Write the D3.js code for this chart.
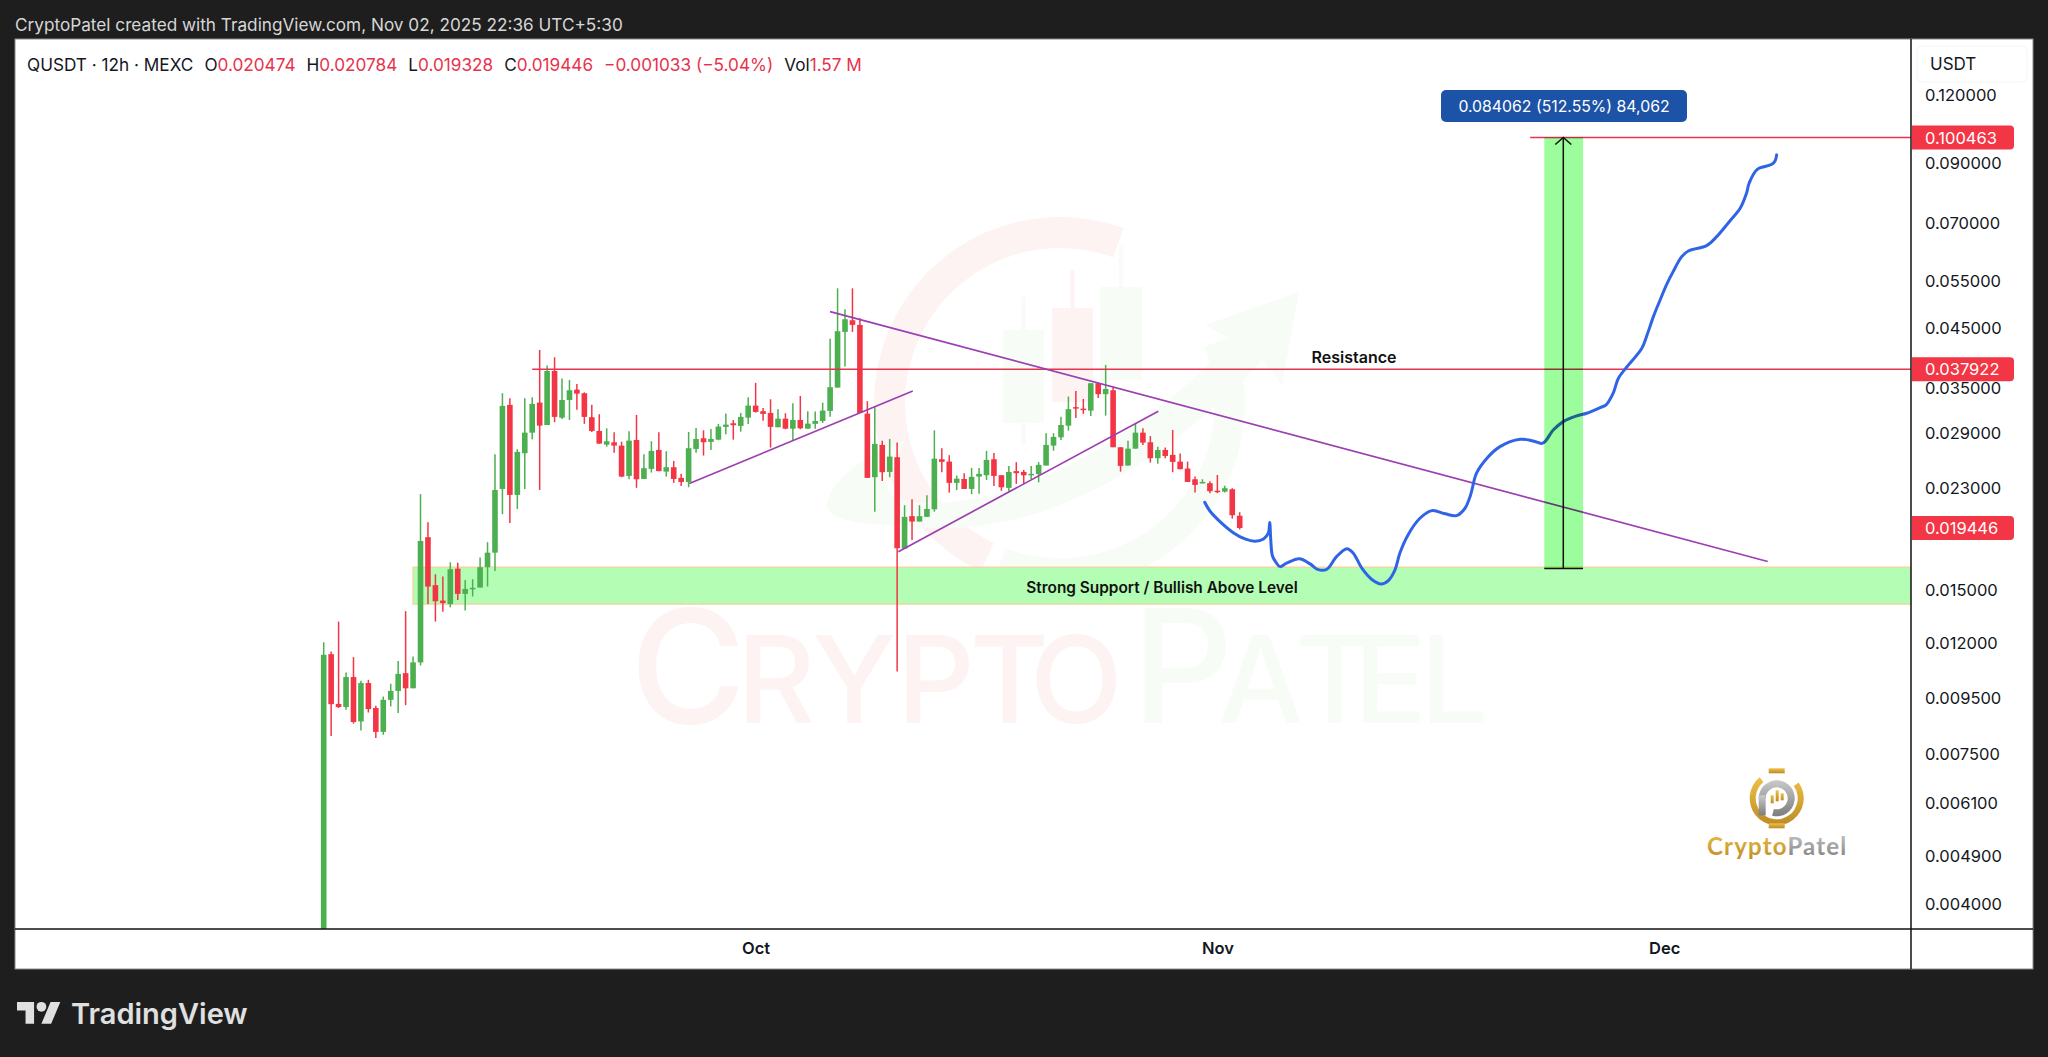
<!DOCTYPE html>
<html lang="en">
<head>
<meta charset="UTF-8">
<title>QUSDT 12h MEXC</title>
<style>
  html, body { margin: 0; background: #1e1e1e; }
  svg { display: block; font-family: Inter, sans-serif; }
  .axis path, .axis line { display: none; }
  .axis text { fill: #131722; font-family: Inter, sans-serif; }
  .price-axis text { font-size: 16.5px; }
  .time-axis text { font-size: 16.5px; font-weight: 600; }
</style>
</head>
<body>
<svg width="2048" height="1057"></svg>
<script src="https://d3js.org/d3.v7.min.js"></script>
<script>
  // 12h candles, first one opens Sep 2 2025
  const opens = [
    0.00350,0.01144,0.00928,0.00916,0.01039,0.00862,0.01013,0.00912,0.00825,0.00944,
    0.00980,0.01056,0.00991,0.01105,0.01871,0.01529,0.01433,0.01412,0.01639,0.01474,
    0.01503,0.01514,0.01649,0.01753,0.02292,0.03264,0.02235,0.02663,0.02904,0.03295,
    0.02999,0.03764,0.03093,0.03332,0.03480,0.03428,0.03099,0.02925,0.02761,0.02789,
    0.02750,0.02421,0.02816,0.02390,0.02494,0.02700,0.02465,0.02511,0.02401,0.02360,
    0.02712,0.02836,0.02793,0.02820,0.02975,0.03021,0.02987,0.03093,0.03254,0.03178,
    0.03155,0.02971,0.03080,0.02953,0.03063,0.02953,0.03013,0.03050,0.03182,0.03510,
    0.04436,0.04659,0.04569,0.03146,0.02408,0.02758,0.02462,0.02619,0.01783,0.02044,
    0.01998,0.02038,0.02104,0.02597,0.02571,0.02351,0.02390,0.02292,0.02414,0.02428,
    0.02597,0.02428,0.02302,0.02470,0.02462,0.02428,0.02439,0.02529,0.02750,0.02848,
    0.02991,0.03233,0.03213,0.03186,0.03575,0.03414,0.03471,0.02731,0.02529,0.02715,
    0.02904,0.02789,0.02608,0.02700,0.02645,0.02571,0.02497,0.02387,0.02348,0.02348,
    0.02275,0.02266,0.02289,0.020474
  ];
  const highs = [
    0.01203,0.01157,0.01312,0.01059,0.01130,0.01023,0.01027,0.00921,0.00957,0.01010,
    0.01112,0.01371,0.01133,0.02242,0.01993,0.01601,0.01585,0.01684,0.01681,0.01563,
    0.01568,0.01717,0.01832,0.02652,0.03428,0.03356,0.02708,0.03356,0.03371,0.04112,
    0.03850,0.03988,0.03645,0.03625,0.03565,0.03440,0.03264,0.03138,0.02958,0.02909,
    0.02796,0.02921,0.03129,0.02652,0.02801,0.02909,0.02686,0.02578,0.02442,0.02913,
    0.02962,0.02933,0.02950,0.03013,0.03146,0.03063,0.03155,0.03371,0.03580,0.03222,
    0.03342,0.03205,0.03151,0.03287,0.03389,0.03178,0.03173,0.03295,0.04312,0.05329,
    0.04880,0.05329,0.04699,0.03314,0.03250,0.02808,0.02828,0.02785,0.02140,0.02195,
    0.02140,0.02232,0.02933,0.02720,0.02641,0.02424,0.02448,0.02504,0.02504,0.02689,
    0.02667,0.02428,0.02525,0.02565,0.02483,0.02525,0.02565,0.02897,0.02897,0.03106,
    0.03380,0.03461,0.03346,0.03575,0.03585,0.03861,0.03525,0.02731,0.02808,0.03013,
    0.02958,0.02862,0.02738,0.02727,0.02937,0.02659,0.02571,0.02414,0.02387,0.02367,
    0.02431,0.02322,0.02299,0.020784
  ];
  const lows = [
    0.00350,0.00811,0.00912,0.00905,0.00854,0.00830,0.00895,0.00804,0.00815,0.00918,
    0.00893,0.00923,0.00991,0.01091,0.01412,0.01312,0.01368,0.01393,0.01437,0.01374,
    0.01458,0.01514,0.01520,0.01623,0.02061,0.01985,0.02106,0.02292,0.02824,0.02282,
    0.02999,0.03034,0.03076,0.03063,0.03199,0.03013,0.02913,0.02773,0.02738,0.02670,
    0.02408,0.02387,0.02303,0.02390,0.02455,0.02470,0.02414,0.02351,0.02321,0.02308,
    0.02670,0.02637,0.02700,0.02813,0.02885,0.02820,0.02916,0.03013,0.03159,0.03054,
    0.02727,0.02971,0.02946,0.02808,0.02946,0.02953,0.02953,0.03025,0.03106,0.03510,
    0.03834,0.04436,0.03155,0.02401,0.02083,0.02370,0.02408,0.01064,0.01783,0.01849,
    0.01998,0.02038,0.02083,0.02459,0.02257,0.02282,0.02292,0.02242,0.02247,0.02380,
    0.02321,0.02273,0.02273,0.02341,0.02341,0.02387,0.02357,0.02529,0.02692,0.02816,
    0.02929,0.03089,0.03142,0.03116,0.03361,0.03120,0.02731,0.02465,0.02529,0.02715,
    0.02758,0.02560,0.02547,0.02608,0.02459,0.02490,0.02360,0.02257,0.02348,0.02251,
    0.02251,0.02257,0.02023,0.019328
  ];
  const closes = [
    0.01141,0.00927,0.00916,0.01039,0.00860,0.01013,0.00908,0.00825,0.00944,0.00980,
    0.01053,0.00991,0.01105,0.01841,0.01520,0.01429,0.01418,0.01635,0.01474,0.01505,
    0.01512,0.01649,0.01753,0.02282,0.03250,0.02235,0.02678,0.02904,0.03277,0.02991,
    0.03764,0.03103,0.03332,0.03471,0.03422,0.03103,0.02925,0.02773,0.02801,0.02750,
    0.02414,0.02808,0.02387,0.02501,0.02689,0.02470,0.02511,0.02390,0.02360,0.02720,
    0.02828,0.02789,0.02828,0.02979,0.03004,0.02996,0.03103,0.03254,0.03169,0.03142,
    0.02975,0.03080,0.02953,0.03063,0.02958,0.03016,0.03050,0.03186,0.03516,0.04449,
    0.04679,0.04569,0.03155,0.02401,0.02770,0.02459,0.02626,0.01786,0.02038,0.01998,
    0.02044,0.02107,0.02603,0.02568,0.02351,0.02393,0.02292,0.02411,0.02442,0.02589,
    0.02421,0.02308,0.02462,0.02449,0.02427,0.02442,0.02536,0.02758,0.02852,0.02999,
    0.03205,0.03213,0.03195,0.03575,0.03414,0.03490,0.02731,0.02525,0.02715,0.02904,
    0.02785,0.02608,0.02700,0.02633,0.02568,0.02490,0.02360,0.02331,0.02360,0.02270,
    0.02266,0.02299,0.02052,0.019446
  ];

  // hand drawn forecast: bar number (can be fractional) and price
  const forecastBars = [
    118.3,119.0,120.35,122.14,123.7,125.06,126.2,126.84,127.03,127.17,127.4,127.9,128.4,129.3,131.0,
    132.45,133.55,134.7,136.0,137.4,138.25,139.4,140.7,142.0,142.96,143.85,144.5,145.6,147.2,148.8,
    150.6,152.1,153.25,154.0,154.8,156.2,157.95,160.65,162.4,163.7,165.1,166.45,168.25,169.6,171.4,
    172.2,173.15,173.85,174.95,177.0,177.7,178.55,179.45,180.35,181.2,182.35,183.25,185.7,187.05,
    188.85,190.2,191.05,191.4,192.5,194.45,194.9,195.1
  ];
  const forecastPrices = [
    0.02167,0.02089,0.01998,0.01907,0.01857,0.01839,0.01857,0.01903,0.01990,0.01849,0.01729,0.01681,0.01653,0.01677,0.01709,
    0.01672,0.01632,0.01635,0.01724,0.01783,0.01749,0.01642,0.01568,0.01537,0.01559,0.01630,0.01749,0.01889,0.02026,0.02092,
    0.02064,0.02049,0.02113,0.02235,0.02449,0.02608,0.02738,0.02824,0.02804,0.02778,0.02937,0.03042,0.03116,0.03151,0.03227,
    0.03264,0.03428,0.03651,0.03824,0.04142,0.04380,0.04731,0.05074,0.05424,0.05716,0.06088,0.06235,0.06377,0.06622,
    0.07082,0.07462,0.07948,0.08290,0.08790,0.08975,0.09115,0.09340
  ];

  // trend lines: [bar, price, bar, price]
  const trendLines = [
    [68, 0.04831, 193.9, 0.01689],
    [49.1, 0.02345, 79.1, 0.03461],
    [77.16, 0.01760, 112.07, 0.03178]
  ];

  const resistancePrice = 0.037922;
  const resistanceStartBar = 28;
  const targetPrice = 0.100463;
  const targetStartBar = 162;
  const lastPrice = 0.019446;
  const supportTop = 0.01649;
  const supportBottom = 0.01412;
  const supportStartBar = 12;
  const rangeLow = 0.016401;
  const rangeBars = [163.9, 169.1];
  const rangeArrowBar = 166.45;

  const priceTicks = [0.12,0.09,0.07,0.055,0.045,0.035,0.029,0.023,0.015,0.012,0.0095,0.0075,0.0061,0.0049,0.004];
  const timeTicks = [new Date(Date.UTC(2025,9,1)), new Date(Date.UTC(2025,10,1)), new Date(Date.UTC(2025,11,1))];
  const timeLabels = ["Oct", "Nov", "Dec"];

  const legendParts = [
    ["QUSDT · 12h · MEXC", "k", 0], ["O", "k", 11], ["0.020474", "r", 0], ["H", "k", 11], ["0.020784", "r", 0],
    ["L", "k", 11], ["0.019328", "r", 0], ["C", "k", 11], ["0.019446", "r", 0],
    ["−0.001033 (−5.04%)", "r", 11], ["Vol", "k", 11], ["1.57 M", "r", 0]
  ];

  const paneLeft = 15, paneRight = 2033, paneTop = 39, paneBottom = 969, plotBottom = 929, axisX = 1911;
  const up = "#4caf50", down = "#f23645", ink = "#131722";
  const barMs = 12 * 3600 * 1000;
  const startTime = Date.UTC(2025, 8, 2);
  const barTime = i => new Date(startTime + i * barMs);

  const svg = d3.select("svg");

  const x = d3.scaleUtc().domain([barTime(0), barTime(180)]).range([323.7, 1664.2]);
  const y = d3.scaleLog().domain([0.12, 0.004]).range([95.3, 904]);
  const xb = i => x(barTime(i));

  const defs = svg.append("defs");
  defs.append("clipPath").attr("id", "plot").append("rect")
    .attr("x", paneLeft).attr("y", paneTop).attr("width", axisX - paneLeft).attr("height", plotBottom - paneTop);

  const gold = defs.append("linearGradient").attr("id", "gold").attr("x1", 0).attr("x2", 0).attr("y1", 0).attr("y2", 1);
  gold.append("stop").attr("offset", 0).attr("stop-color", "#eec146");
  gold.append("stop").attr("offset", 1).attr("stop-color", "#bd8a26");
  const silver = defs.append("linearGradient").attr("id", "silver").attr("x1", 0).attr("x2", 0).attr("y1", 0).attr("y2", 1);
  silver.append("stop").attr("offset", 0).attr("stop-color", "#c9c9c9");
  silver.append("stop").attr("offset", 1).attr("stop-color", "#7d7d7d");

  // pane
  svg.append("rect").attr("x", paneLeft).attr("y", paneTop).attr("width", paneRight - paneLeft).attr("height", paneBottom - paneTop)
    .attr("fill", "#fff").attr("stroke", "#8a8a8a").attr("stroke-width", 1);

  // watermark
  const wm = svg.append("g").attr("clip-path", "url(#plot)");
  const wmRed = "#fdf3f2", wmGreen = "#f8fcf6";
  const wmWords = [
    { fill: wmRed, letters: [["C", 630, 158], ["R", 737, 121], ["Y", 812, 121], ["P", 897, 121], ["T", 970, 121], ["O", 1030, 121]] },
    { fill: wmGreen, letters: [["P", 1132, 158], ["A", 1218, 121], ["T", 1295, 121], ["E", 1354, 121], ["L", 1420, 121]] }
  ];
  wmWords.forEach(w => {
    wm.append("text").attr("y", 723).attr("font-weight", 500).attr("fill", w.fill)
      .selectAll("tspan").data(w.letters).join("tspan")
      .attr("x", d => d[1]).attr("font-size", d => d[2]).text(d => d[0]);
  });

  const ringArc = d3.arc();
  wm.append("path").attr("transform", "translate(1060,403)").attr("fill", wmRed)
    .attr("d", ringArc({ innerRadius: 155, outerRadius: 186, startAngle: -2.7, endAngle: 0.35 }));
  wm.append("path").attr("transform", "translate(1060,403)").attr("fill", wmGreen)
    .attr("d", ringArc({ innerRadius: 155, outerRadius: 185, startAngle: 1.2, endAngle: 3.5 }));
  wm.append("path").attr("fill", wmGreen)
    .attr("d", "M827 505C829 480 870 452 905 440C890 470 880 495 900 500C1010 520 1150 430 1232 340L1205 325L1299 292L1282 385L1262 360C1160 470 1030 545 900 525C860 525 827 520 827 505Z");
  const wmCandles = [[1003,330,41,93,297,445,wmGreen],[1052,308,41,94,270,402,wmRed],[1100,287,42,93,245,380,wmGreen]];
  wmCandles.forEach(c => {
    wm.append("line").attr("x1", c[0] + c[2] / 2).attr("x2", c[0] + c[2] / 2).attr("y1", c[4]).attr("y2", c[5]).attr("stroke", c[6]).attr("stroke-width", 4);
    wm.append("rect").attr("x", c[0]).attr("y", c[1]).attr("width", c[2]).attr("height", c[3]).attr("fill", c[6]);
  });

  const plot = svg.append("g").attr("clip-path", "url(#plot)");

  // support zone
  plot.append("rect").attr("x", xb(supportStartBar)).attr("y", y(supportTop))
    .attr("width", axisX - xb(supportStartBar)).attr("height", y(supportBottom) - y(supportTop))
    .attr("fill", "#b4fdb4").attr("stroke", "#efd9a2").attr("stroke-width", 1.5);

  // candles
  const candles = plot.append("g").selectAll("g").data(opens.map((o, i) => i)).join("g");
  candles.append("line")
    .attr("x1", i => xb(i)).attr("x2", i => xb(i))
    .attr("y1", i => y(highs[i])).attr("y2", i => y(lows[i]))
    .attr("stroke", i => closes[i] >= opens[i] ? up : down).attr("stroke-width", 1.5);
  candles.append("rect")
    .attr("x", i => xb(i) - 2.8).attr("width", 5.6)
    .attr("y", i => y(Math.max(opens[i], closes[i])))
    .attr("height", i => Math.max(1.5, Math.abs(y(opens[i]) - y(closes[i]))))
    .attr("fill", i => closes[i] >= opens[i] ? up : down);

  // horizontal levels
  const levels = [[resistancePrice, resistanceStartBar], [targetPrice, targetStartBar]];
  plot.selectAll("line.level").data(levels).join("line").attr("class", "level")
    .attr("x1", d => xb(d[1])).attr("x2", axisX)
    .attr("y1", d => y(d[0])).attr("y2", d => y(d[0]))
    .attr("stroke", "#e8334f").attr("stroke-width", 1.4);

  // trend lines
  plot.selectAll("line.trend").data(trendLines).join("line").attr("class", "trend")
    .attr("x1", d => xb(d[0])).attr("y1", d => y(d[1]))
    .attr("x2", d => xb(d[2])).attr("y2", d => y(d[3]))
    .attr("stroke", "#9c3fb0").attr("stroke-width", 1.7);

  // forecast
  const forecastLine = d3.line().x(i => xb(forecastBars[i])).y(i => y(forecastPrices[i])).curve(d3.curveCatmullRom.alpha(0.5));
  plot.append("path").attr("d", forecastLine(forecastBars.map((b, i) => i)))
    .attr("fill", "none").attr("stroke", "#2f64e6").attr("stroke-width", 3).attr("stroke-linecap", "round");

  // price range box
  plot.append("rect").attr("x", xb(rangeBars[0])).attr("width", xb(rangeBars[1]) - xb(rangeBars[0]))
    .attr("y", y(targetPrice)).attr("height", y(rangeLow) - y(targetPrice))
    .attr("fill", "#9bfd9b").style("mix-blend-mode", "multiply");
  plot.append("line").attr("x1", xb(rangeBars[0])).attr("x2", xb(rangeBars[1]))
    .attr("y1", y(rangeLow)).attr("y2", y(rangeLow)).attr("stroke", "#111").attr("stroke-width", 1.5);
  plot.append("line").attr("x1", xb(rangeArrowBar)).attr("x2", xb(rangeArrowBar))
    .attr("y1", y(rangeLow)).attr("y2", y(targetPrice)).attr("stroke", "#111").attr("stroke-width", 1.5);
  plot.append("path").attr("fill", "none").attr("stroke", "#111").attr("stroke-width", 1.5)
    .attr("d", `M${xb(rangeArrowBar) - 8} ${y(targetPrice) + 7}L${xb(rangeArrowBar)} ${y(targetPrice)}L${xb(rangeArrowBar) + 8} ${y(targetPrice) + 7}`);

  // range tooltip
  const tip = svg.append("g");
  tip.append("rect").attr("x", 1441).attr("y", 90).attr("width", 246).attr("height", 32).attr("rx", 5).attr("fill", "#1d53a6");
  tip.append("text").attr("x", 1564).attr("y", 111.5).attr("text-anchor", "middle").attr("fill", "#fff").attr("font-size", 15.8)
    .text("0.084062 (512.55%) 84,062");

  // drawing labels
  svg.append("text").attr("x", 1354).attr("y", 363).attr("text-anchor", "middle").attr("font-size", 16).attr("font-weight", 600).attr("fill", "#111").text("Resistance");
  svg.append("text").attr("x", 1162).attr("y", 593).attr("text-anchor", "middle").attr("font-size", 15.4).attr("font-weight", 600).attr("fill", "#111").text("Strong Support / Bullish Above Level");

  // frame lines
  svg.append("line").attr("x1", paneLeft).attr("x2", paneRight).attr("y1", plotBottom).attr("y2", plotBottom).attr("stroke", "#111").attr("stroke-width", 1.5);
  svg.append("line").attr("x1", axisX).attr("x2", axisX).attr("y1", paneTop).attr("y2", paneBottom).attr("stroke", "#111").attr("stroke-width", 1.5);

  // axes
  svg.append("g").attr("class", "axis price-axis").attr("transform", `translate(${axisX + 11},0)`)
    .call(d3.axisRight(y).tickValues(priceTicks).tickFormat(d3.format(".6f")).tickSize(0));
  svg.append("g").attr("class", "axis time-axis").attr("transform", `translate(0,${plotBottom + 10})`)
    .call(d3.axisBottom(x).tickValues(timeTicks).tickFormat((d, i) => timeLabels[i]).tickSize(0));

  // USDT button
  svg.append("rect").attr("x", 1917).attr("y", 46).attr("width", 110).attr("height", 36).attr("rx", 5).attr("fill", "#fff").attr("stroke", "#f4f4f4");
  svg.append("text").attr("x", 1930).attr("y", 70).attr("font-size", 17).attr("fill", ink).text("USDT");

  // price tags
  const tags = [targetPrice, resistancePrice, lastPrice];
  const tagG = svg.selectAll("g.tag").data(tags).join("g").attr("class", "tag");
  tagG.append("path").attr("fill", "#f23645")
    .attr("d", d => `M${axisX + 1} ${y(d) - 12}H2010a4 4 0 0 1 4 4V${y(d) + 8}a4 4 0 0 1 -4 4H${axisX + 1}Z`);
  tagG.append("text").attr("x", axisX + 14).attr("y", d => y(d) + 6).attr("font-size", 16.5).attr("fill", "#fff").text(d => d3.format(".6f")(d));

  // header and legend
  svg.append("text").attr("x", 15).attr("y", 31).attr("font-size", 17.2).attr("fill", "#d6d6d6")
    .text("CryptoPatel created with TradingView.com, Nov 02, 2025 22:36 UTC+5:30");
  const legend = svg.append("text").attr("x", 27).attr("y", 71).attr("font-size", 17.2);
  legend.selectAll("tspan").data(legendParts).join("tspan")
    .attr("dx", d => d[2]).attr("fill", d => d[1] === "r" ? "#e8324c" : ink).text(d => d[0]);

  // CryptoPatel logo
  const logo = svg.append("g").attr("transform", "translate(1776.7,798.3)");
  logo.append("path").attr("fill", "url(#gold)").attr("d", d3.arc()({ innerRadius: 21, outerRadius: 27, startAngle: 0.95, endAngle: 5.6 }));
  logo.append("rect").attr("x", -8).attr("y", -30).attr("width", 16).attr("height", 5).attr("fill", "url(#gold)");
  logo.append("rect").attr("x", -8).attr("y", 25).attr("width", 16).attr("height", 5).attr("fill", "url(#gold)");
  logo.append("path").attr("fill", "url(#silver)").attr("d", d3.arc()({ innerRadius: 11, outerRadius: 18, startAngle: -1.6, endAngle: 3.4 }));
  logo.append("rect").attr("x", -18).attr("y", -3).attr("width", 7).attr("height", 20).attr("fill", "url(#silver)");
  [[-6, -3, 8], [-1, -8, 11], [4, -5, 7]].forEach(c => {
    logo.append("rect").attr("x", c[0]).attr("y", c[1]).attr("width", 3).attr("height", c[2]).attr("fill", "url(#gold)");
  });
  const logoText = svg.append("text").attr("x", 1707).attr("y", 855).attr("font-size", 24).attr("font-weight", 700)
    .attr("font-family", "Lato").attr("letter-spacing", 1.2);
  logoText.append("tspan").attr("fill", "url(#gold)").text("Crypto");
  logoText.append("tspan").attr("fill", "url(#silver)").text("Patel");

  // TradingView footer
  const tv = svg.append("g").attr("transform", "translate(17,997) scale(1.22)").attr("fill", "#e0e0e0");
  tv.append("path").attr("d", "M14 22H7V11H0V4h14v18zM28 22h-8l7.5-18h8L28 22z");
  tv.append("circle").attr("cx", 20).attr("cy", 8).attr("r", 4);
  svg.append("text").attr("x", 71).attr("y", 1024).attr("font-size", 29).attr("font-weight", 600).attr("fill", "#e0e0e0").text("TradingView");
</script>
</body>
</html>
